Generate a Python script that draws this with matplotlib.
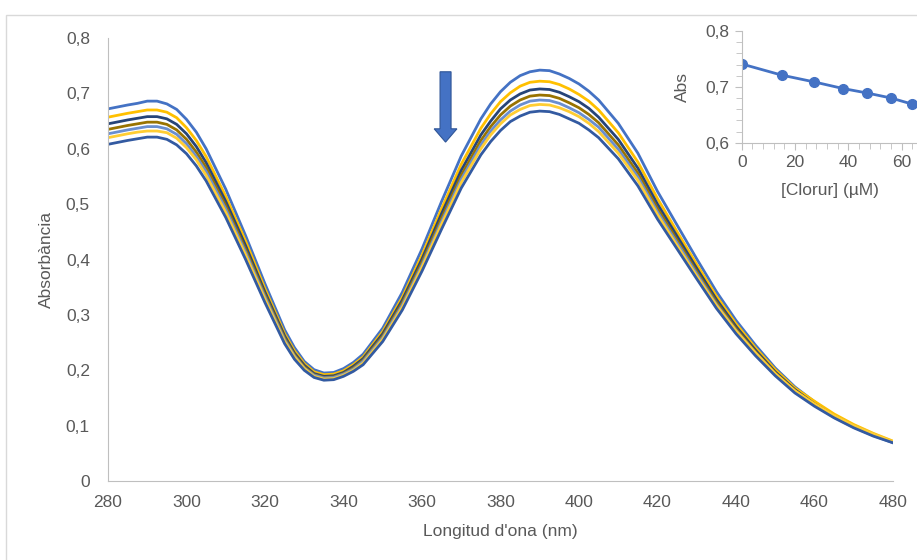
import matplotlib.pyplot as plt
from matplotlib.patches import FancyArrow, Rectangle
from matplotlib.ticker import FuncFormatter, MultipleLocator

plt.rcParams['font.family'] = ['Liberation Sans', 'DejaVu Sans']

# Wavelengths (nm)
wavelength = [280, 285, 287.5, 290, 292.5, 295, 297.5, 300, 302.5, 305,
              310, 315, 320, 325, 327.5, 330, 332.5, 335, 337.5, 340,
              342.5, 345, 350, 355, 360, 365, 370, 375, 377.5, 380,
              382.5, 385, 387.5, 390, 392.5, 395, 397.5, 400, 402.5, 405,
              410, 415, 420, 425, 430, 435, 440, 445, 450, 455,
              460, 465, 470, 475, 480]

# Absorbance spectra, one per chloride addition
abs_0 = [0.672, 0.679, 0.682, 0.686, 0.686, 0.681, 0.671, 0.653, 0.630, 0.600,
         0.527, 0.444, 0.356, 0.273, 0.241, 0.216, 0.201, 0.195, 0.196, 0.203,
         0.214, 0.229, 0.276, 0.341, 0.419, 0.505, 0.587, 0.654, 0.681, 0.703,
         0.720, 0.732, 0.739, 0.742, 0.741, 0.735, 0.727, 0.717, 0.704, 0.688,
         0.646, 0.592, 0.523, 0.462, 0.401, 0.342, 0.290, 0.245, 0.204, 0.170,
         0.143, 0.118, 0.099, 0.084, 0.070]
abs_1 = [0.657, 0.664, 0.667, 0.670, 0.670, 0.666, 0.656, 0.638, 0.615, 0.586,
         0.514, 0.434, 0.347, 0.266, 0.235, 0.212, 0.197, 0.192, 0.193, 0.199,
         0.210, 0.224, 0.270, 0.332, 0.408, 0.492, 0.572, 0.637, 0.663, 0.685,
         0.701, 0.713, 0.720, 0.722, 0.721, 0.716, 0.708, 0.698, 0.686, 0.670,
         0.629, 0.576, 0.510, 0.450, 0.391, 0.334, 0.284, 0.240, 0.201, 0.168,
         0.144, 0.121, 0.102, 0.086, 0.072]
abs_2 = [0.645, 0.652, 0.655, 0.658, 0.658, 0.654, 0.644, 0.627, 0.604, 0.575,
         0.505, 0.426, 0.341, 0.262, 0.231, 0.209, 0.194, 0.189, 0.190, 0.196,
         0.207, 0.221, 0.266, 0.327, 0.401, 0.483, 0.561, 0.625, 0.650, 0.672,
         0.688, 0.699, 0.706, 0.708, 0.707, 0.702, 0.694, 0.685, 0.673, 0.657,
         0.617, 0.565, 0.500, 0.442, 0.384, 0.328, 0.279, 0.236, 0.197, 0.165,
         0.139, 0.117, 0.099, 0.084, 0.070]
abs_3 = [0.635, 0.642, 0.645, 0.648, 0.648, 0.644, 0.634, 0.617, 0.594, 0.566,
         0.497, 0.419, 0.336, 0.258, 0.228, 0.206, 0.192, 0.187, 0.188, 0.194,
         0.204, 0.218, 0.262, 0.322, 0.395, 0.475, 0.552, 0.615, 0.640, 0.661,
         0.677, 0.688, 0.695, 0.697, 0.696, 0.691, 0.683, 0.674, 0.662, 0.647,
         0.607, 0.556, 0.492, 0.435, 0.378, 0.323, 0.275, 0.233, 0.195, 0.163,
         0.138, 0.116, 0.098, 0.083, 0.070]
abs_4 = [0.627, 0.634, 0.637, 0.640, 0.640, 0.636, 0.626, 0.609, 0.586, 0.559,
         0.491, 0.414, 0.332, 0.255, 0.226, 0.204, 0.191, 0.186, 0.187, 0.193,
         0.202, 0.216, 0.259, 0.318, 0.390, 0.469, 0.545, 0.607, 0.632, 0.652,
         0.668, 0.679, 0.686, 0.688, 0.687, 0.682, 0.674, 0.665, 0.653, 0.639,
         0.599, 0.549, 0.486, 0.430, 0.374, 0.319, 0.272, 0.231, 0.193, 0.161,
         0.137, 0.115, 0.097, 0.082, 0.069]
abs_5 = [0.620, 0.627, 0.630, 0.632, 0.632, 0.629, 0.619, 0.602, 0.580, 0.552,
         0.485, 0.409, 0.328, 0.252, 0.224, 0.203, 0.189, 0.184, 0.185, 0.191,
         0.200, 0.213, 0.256, 0.314, 0.386, 0.464, 0.539, 0.600, 0.625, 0.645,
         0.661, 0.671, 0.678, 0.680, 0.679, 0.674, 0.667, 0.658, 0.646, 0.631,
         0.592, 0.543, 0.481, 0.425, 0.370, 0.317, 0.271, 0.231, 0.194, 0.163,
         0.139, 0.118, 0.100, 0.085, 0.071]
abs_6 = [0.608, 0.615, 0.618, 0.621, 0.621, 0.617, 0.607, 0.591, 0.569, 0.542,
         0.476, 0.401, 0.322, 0.248, 0.220, 0.200, 0.187, 0.182, 0.183, 0.189,
         0.198, 0.210, 0.252, 0.309, 0.379, 0.455, 0.529, 0.589, 0.613, 0.633,
         0.649, 0.659, 0.666, 0.668, 0.667, 0.662, 0.654, 0.646, 0.634, 0.620,
         0.582, 0.533, 0.473, 0.419, 0.365, 0.312, 0.266, 0.226, 0.190, 0.159,
         0.135, 0.114, 0.096, 0.081, 0.069]

spectra = [abs_0, abs_1, abs_2, abs_3, abs_4, abs_5, abs_6]
colors = ['#4472C4', '#FFC000', '#264478', '#997300', '#698ED0', '#FFCD33', '#335AA1']

# Inset: absorbance at the band maximum vs chloride concentration
chloride = [0, 15, 27, 38, 47, 56, 64]
abs_max = [0.741, 0.721, 0.709, 0.697, 0.689, 0.680, 0.669]

text_color = '#595959'
axis_color = '#BFBFBF'
comma = FuncFormatter(lambda v, pos: f'{v:.1f}'.replace('.', ',') if v != 0 else '0')

fig = plt.figure(figsize=(9.17, 5.60), dpi=100)

# light chart border
fig.patches.append(Rectangle((6 / 917, -0.1), 1.2, 1.1 - 15 / 560,
                             transform=fig.transFigure, fill=False,
                             edgecolor='#D9D9D9', linewidth=1))

ax = fig.add_axes([108 / 917, 79 / 560, 785 / 917, 443 / 560])
for y, c in zip(spectra, colors):
    ax.plot(wavelength, y, color=c, linewidth=2, solid_joinstyle='round')

ax.set_xlim(280, 480)
ax.set_ylim(0, 0.8)
ax.xaxis.set_major_locator(MultipleLocator(20))
ax.yaxis.set_major_locator(MultipleLocator(0.1))
ax.yaxis.set_major_formatter(comma)
for s in ['top', 'right']:
    ax.spines[s].set_visible(False)
for s in ['left', 'bottom']:
    ax.spines[s].set_color(axis_color)
ax.tick_params(axis='both', length=0, labelsize=12.5, labelcolor=text_color)
ax.tick_params(axis='y', pad=13)
ax.tick_params(axis='x', pad=10)
ax.set_xlabel("Longitud d'ona (nm)", fontsize=12.5, color=text_color, va='center')
ax.set_ylabel('Absorbància', fontsize=12.5, color=text_color, va='center')
ax.xaxis.set_label_coords(0.5, -0.115)
ax.yaxis.set_label_coords(-0.078, 0.5)

# downward arrow
ax.add_patch(FancyArrow(366, 0.739, 0, -0.127, width=2.8, head_width=5.8,
                        head_length=0.024, length_includes_head=True,
                        facecolor='#4472C4', edgecolor='#2F5597', linewidth=0.8))

# inset
ins = fig.add_axes([741.7 / 917, (560 - 142.7) / 560, 176 / 917, 111.7 / 560])
ins.plot(chloride, abs_max, color='#4472C4', linewidth=2, marker='o', markersize=7)
ins.set_xlim(0, 66)
ins.set_ylim(0.6, 0.8)
ins.xaxis.set_major_locator(MultipleLocator(20))
ins.xaxis.set_minor_locator(MultipleLocator(4))
ins.yaxis.set_major_locator(MultipleLocator(0.1))
ins.yaxis.set_minor_locator(MultipleLocator(0.02))
ins.yaxis.set_major_formatter(comma)
for s in ['top', 'right']:
    ins.spines[s].set_visible(False)
for s in ['left', 'bottom']:
    ins.spines[s].set_color(axis_color)
ins.tick_params(axis='both', which='both', direction='out', color=axis_color,
                labelsize=12.5, labelcolor=text_color)
ins.tick_params(axis='both', which='major', length=5, pad=4)
ins.tick_params(axis='both', which='minor', length=4)
ins.set_xlabel('[Clorur] (µM)', fontsize=12.5, color=text_color, va='center')
ins.set_ylabel('Abs', fontsize=12.5, color=text_color, va='center')
ins.xaxis.set_label_coords(0.5, -0.43)
ins.yaxis.set_label_coords(-0.335, 0.5)

fig.savefig('out.png', dpi=100)
